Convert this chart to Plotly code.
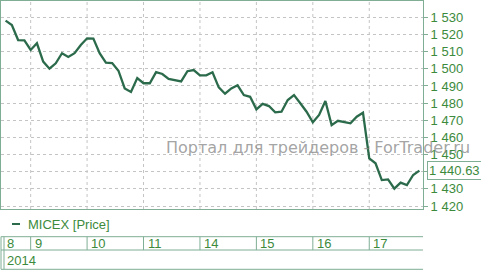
import plotly.graph_objects as go

# ---- data ----
prices = [1528.1, 1525.6, 1516.8, 1516.6, 1511.0, 1514.9, 1504.2, 1500.1, 1503.2, 1509.1,
          1506.9, 1509.1, 1513.9, 1517.8, 1517.6, 1509.1, 1503.6, 1503.4, 1498.9, 1488.6,
          1486.5, 1494.6, 1491.6, 1491.6, 1498.1, 1497.0, 1494.1, 1493.5, 1492.7, 1498.6,
          1499.3, 1496.2, 1496.2, 1498.0, 1489.2, 1485.5, 1488.6, 1490.4, 1484.7, 1483.7,
          1476.4, 1479.6, 1478.3, 1474.6, 1475.0, 1481.8, 1484.7, 1479.9, 1475.0, 1468.8,
          1473.1, 1481.2, 1467.2, 1469.7, 1469.0, 1468.2, 1472.1, 1474.4, 1447.8, 1444.9,
          1435.1, 1435.5, 1430.1, 1433.6, 1432.2, 1438.1, 1440.63]
day_labels = ["8", "9", "10", "11", "14", "15", "16", "17"]
day_starts = [-0.73, 4, 13, 22, 31, 40, 49, 58]
year_label = "2014"
last_label = "1 440.63"
y_ticks = [1420, 1430, 1440, 1450, 1460, 1470, 1480, 1490, 1500, 1510, 1520, 1530]
y_ticktext = ["1 420", "1 430", "", "1 450", "1 460", "1 470", "1 480", "1 490",
              "1 500", "1 510", "1 520", "1 530"]
series_name = "MICEX [Price]"
watermark = "Портал для трейдеров - ForTrader.ru"

W, H = 481, 271
L, R, T, B = 1, 58, 1, 62
pw, ph = W - L - R, H - T - B

def px_x(p):
    return (p - L) / pw

def px_y(p):
    return (H - B - p) / ph

line_col = "#2b6b4b"
txt_col = "#3c8a3c"
border_col = "#7fae95"
grid_col = "#c4c4c4"
font_fam = "Liberation Sans, Arial"

x = list(range(len(prices)))
fig = go.Figure()
fig.add_trace(go.Scatter(x=x, y=prices, mode="lines",
                         line=dict(color=line_col, width=2.3), showlegend=False,
                         hoverinfo="skip"))

shapes = []
annotations = []
# vertical dotted grid at day starts + table separators
for i, ds in enumerate(day_starts):
    if i > 0:
        shapes.append(dict(type="line", xref="x", yref="paper", x0=ds, x1=ds, y0=0, y1=1,
                           line=dict(color=grid_col, width=1, dash="dot"), layer="below"))
        shapes.append(dict(type="line", xref="x", yref="paper", x0=ds, x1=ds,
                           y0=px_y(236.7), y1=px_y(250), line=dict(color=border_col, width=1)))
    annotations.append(dict(text=day_labels[i], xref="x" if i > 0 else "paper",
                            x=ds if i > 0 else px_x(5), y=px_y(243.5), yref="paper",
                            xanchor="left", yanchor="middle", xshift=2 if i > 0 else 0,
                            showarrow=False, font=dict(size=13, color=txt_col, family=font_fam)))
annotations.append(dict(text=year_label, xref="paper", yref="paper", x=px_x(5), y=px_y(260.5),
                        xanchor="left", yanchor="middle", showarrow=False,
                        font=dict(size=13, color=txt_col, family=font_fam)))
# table horizontal lines
for yy in [236.7, 250, 269.3]:
    shapes.append(dict(type="line", xref="paper", yref="paper", x0=px_x(1), x1=px_x(423),
                       y0=px_y(yy), y1=px_y(yy), line=dict(color=border_col, width=1)))
# left double border of table
for xx in [1, 4]:
    shapes.append(dict(type="line", xref="paper", yref="paper", x0=px_x(xx), x1=px_x(xx),
                       y0=px_y(236.7), y1=px_y(269.3), line=dict(color=border_col, width=1)))
# legend
shapes.append(dict(type="line", xref="paper", yref="paper", x0=px_x(12), x1=px_x(20),
                   y0=px_y(224), y1=px_y(224), line=dict(color=line_col, width=2)))
annotations.append(dict(text=series_name, xref="paper", yref="paper", x=px_x(26), y=px_y(224),
                        xanchor="left", yanchor="middle", showarrow=False,
                        font=dict(size=13, color=txt_col, family=font_fam)))
# watermark
annotations.append(dict(text=watermark, xref="paper", yref="paper", x=px_x(164), y=px_y(147),
                        xanchor="left", yanchor="middle", showarrow=False,
                        font=dict(size=16, color="rgba(140,140,140,0.8)",
                                  family="DejaVu Sans")))
# last value box
annotations.append(dict(text=last_label, xref="paper", yref="y", x=1, y=prices[-1],
                        xanchor="left", yanchor="middle", xshift=4, showarrow=False,
                        bordercolor=border_col, borderwidth=1, borderpad=1, bgcolor="white",
                        font=dict(size=13, color=txt_col, family=font_fam)))

fig.update_layout(
    width=W, height=H, margin=dict(l=L, r=R, t=T, b=B),
    paper_bgcolor="white", plot_bgcolor="white",
    shapes=shapes, annotations=annotations, showlegend=False,
    xaxis=dict(range=[-0.73, 66.57], showgrid=False, zeroline=False, showticklabels=False,
               ticks="", showline=True, mirror=True, linecolor=border_col, linewidth=1),
    yaxis=dict(range=[1418.25, 1539.57], side="right", tickvals=y_ticks, ticktext=y_ticktext,
               showgrid=True, gridcolor=grid_col, griddash="dot", gridwidth=1,
               zeroline=False, ticks="outside", ticklen=4, tickcolor=border_col,
               showline=True, mirror=True, linecolor=border_col, linewidth=1,
               tickfont=dict(size=13, color=txt_col, family=font_fam)),
)
fig.write_html("out.html")
